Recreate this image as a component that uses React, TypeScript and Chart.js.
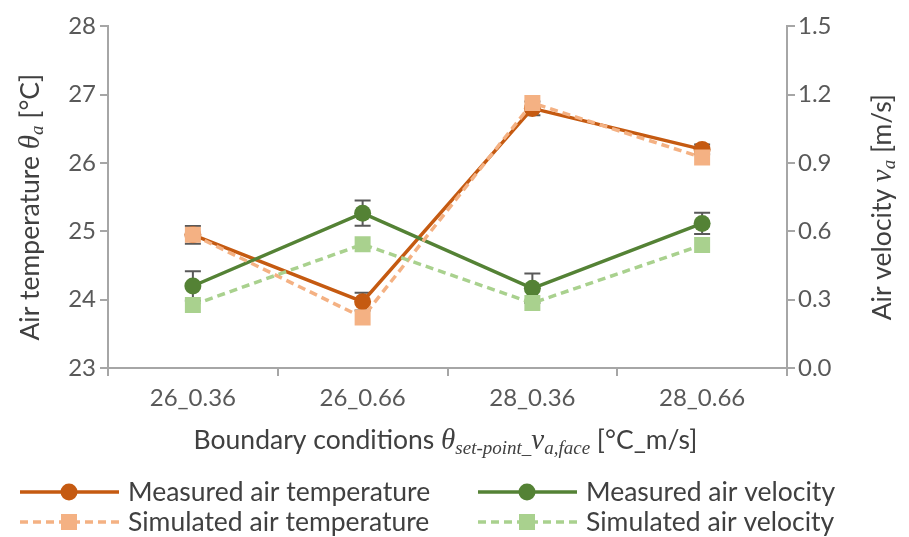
import React, { useEffect, useRef } from "react";
import { Chart, registerables } from "chart.js";

Chart.register(...registerables);

const categories = ["26_0.36", "26_0.66", "28_0.36", "28_0.66"];
const measuredTemp = [24.95, 23.97, 26.8, 26.2];
const measuredTempErr = [0.13, 0.13, 0.1, 0.07];
const simulatedTemp = [24.95, 23.74, 26.88, 26.08];
const measuredVel = [0.36, 0.68, 0.35, 0.635];
const measuredVelErr = [0.065, 0.055, 0.065, 0.047];
const simulatedVel = [0.277, 0.543, 0.285, 0.54];
const tempTicks = [23, 24, 25, 26, 27, 28];
const velTicks = [0, 0.3, 0.6, 0.9, 1.2, 1.5];

const FONT = "Lato";
const SERIF = "'Liberation Serif'";
const AXIS = "#A6A6A6";
const TICK = "#595959";
const TITLE = "#404040";
const C_MT = "#C55A11";
const C_ST = "#F4B183";
const C_MV = "#548235";
const C_SV = "#A9D18E";

const W = 893;
const H = 529;

type Run = { text: string; font: string; dy?: number };

function drawRuns(ctx: CanvasRenderingContext2D, runs: Run[], cx: number, cy: number, rotate: boolean) {
  ctx.save();
  ctx.translate(cx, cy);
  if (rotate) ctx.rotate(-Math.PI / 2);
  const widths = runs.map((r) => {
    ctx.font = r.font;
    return ctx.measureText(r.text).width;
  });
  const total = widths.reduce((a, b) => a + b, 0);
  let x = -total / 2;
  ctx.fillStyle = TITLE;
  ctx.textBaseline = "alphabetic";
  ctx.textAlign = "left";
  runs.forEach((r, i) => {
    ctx.font = r.font;
    ctx.fillText(r.text, x, 9 + (r.dy || 0));
    x += widths[i];
  });
  ctx.restore();
}

const errorBars = {
  id: "errorBars",
  beforeDatasetsDraw(chart: any) {
    const ctx = chart.ctx as CanvasRenderingContext2D;
    const xs = chart.scales.x;
    const draw = (vals: number[], errs: number[], id: string) => {
      const s = chart.scales[id];
      vals.forEach((v, i) => {
        const px = xs.getPixelForValue(i);
        const t = s.getPixelForValue(v + errs[i]);
        const b = s.getPixelForValue(v - errs[i]);
        ctx.save();
        ctx.strokeStyle = "#595959";
        ctx.lineWidth = 2;
        ctx.beginPath();
        ctx.moveTo(px, t);
        ctx.lineTo(px, b);
        ctx.moveTo(px - 8, t);
        ctx.lineTo(px + 8, t);
        ctx.moveTo(px - 8, b);
        ctx.lineTo(px + 8, b);
        ctx.stroke();
        ctx.restore();
      });
    };
    draw(measuredTemp, measuredTempErr, "y");
    draw(measuredVel, measuredVelErr, "y1");
  },
};

const titles = {
  id: "titles",
  afterDraw(chart: any) {
    const ctx = chart.ctx as CanvasRenderingContext2D;
    const reg = `26.5px ${FONT}`;
    const it = `italic 29px ${SERIF}`;
    const sub = `italic 19px ${SERIF}`;
    const ca = chart.chartArea;
    const cyMid = (ca.top + ca.bottom) / 2 + 10;
    drawRuns(
      ctx,
      [
        { text: "Air temperature ", font: reg },
        { text: "θ", font: it },
        { text: "a", font: sub, dy: 4 },
        { text: " [°C]", font: reg },
      ],
      22,
      cyMid,
      true
    );
    drawRuns(
      ctx,
      [
        { text: "Air velocity ", font: reg },
        { text: "v", font: it },
        { text: "a", font: sub, dy: 4 },
        { text: " [m/s]", font: reg },
      ],
      874,
      cyMid,
      true
    );
    drawRuns(
      ctx,
      [
        { text: "Boundary conditions ", font: reg },
        { text: "θ", font: it },
        { text: "set-point_", font: sub, dy: 5 },
        { text: "v", font: it },
        { text: "a,face", font: sub, dy: 5 },
        { text: " [°C_m/s]", font: reg },
      ],
      (ca.left + ca.right) / 2 - 2,
      432,
      false
    );
  },
};

const legendItems = [
  { label: "Measured air temperature", color: C_MT, dash: false, shape: "circle", x: 12, y: 484 },
  { label: "Measured air velocity", color: C_MV, dash: false, shape: "circle", x: 470, y: 484 },
  { label: "Simulated air temperature", color: C_ST, dash: true, shape: "rect", x: 12, y: 514 },
  { label: "Simulated air velocity", color: C_SV, dash: true, shape: "rect", x: 470, y: 514 },
];

const legendPlugin = {
  id: "customLegend",
  afterDraw(chart: any) {
    const ctx = chart.ctx as CanvasRenderingContext2D;
    legendItems.forEach((it) => {
      ctx.save();
      ctx.strokeStyle = it.color;
      ctx.lineWidth = 3.5;
      ctx.setLineDash(it.dash ? [8, 5] : []);
      ctx.beginPath();
      ctx.moveTo(it.x, it.y);
      ctx.lineTo(it.x + 99, it.y);
      ctx.stroke();
      ctx.setLineDash([]);
      ctx.fillStyle = it.color;
      const mx = it.x + 49;
      if (it.shape === "circle") {
        ctx.beginPath();
        ctx.arc(mx, it.y, 8.5, 0, Math.PI * 2);
        ctx.fill();
      } else {
        ctx.fillRect(mx - 8, it.y - 8, 16, 16);
      }
      ctx.fillStyle = TITLE;
      ctx.font = `26.5px ${FONT}`;
      ctx.textBaseline = "middle";
      ctx.textAlign = "left";
      ctx.fillText(it.label, it.x + 108, it.y);
      ctx.restore();
    });
  },
};

export default function App() {
  const ref = useRef<HTMLCanvasElement | null>(null);
  useEffect(() => {
    if (!ref.current) return;
    const prevMargin = document.body.style.marginBottom;
    document.body.style.marginBottom = "0px";
    const gridCommon = {
      display: true,
      drawOnChartArea: false,
      drawTicks: true,
      tickLength: 8,
      color: AXIS,
      lineWidth: 2,
    };
    const chart = new Chart(ref.current, {
      type: "line",
      data: {
        labels: categories,
        datasets: [
          {
            label: "Simulated air velocity",
            data: simulatedVel,
            yAxisID: "y1",
            borderColor: C_SV,
            backgroundColor: C_SV,
            borderWidth: 3.5,
            borderDash: [8, 5],
            pointStyle: "rect",
            pointRadius: 11.3,
            pointBorderWidth: 0,
            tension: 0,
          },
          {
            label: "Simulated air temperature",
            data: simulatedTemp,
            yAxisID: "y",
            borderColor: C_ST,
            backgroundColor: C_ST,
            borderWidth: 3.5,
            borderDash: [8, 5],
            pointStyle: "rect",
            pointRadius: 11.3,
            pointBorderWidth: 0,
            tension: 0,
          },
          {
            label: "Measured air velocity",
            data: measuredVel,
            yAxisID: "y1",
            borderColor: C_MV,
            backgroundColor: C_MV,
            borderWidth: 3.5,
            pointStyle: "circle",
            pointRadius: 8.5,
            pointBorderWidth: 0,
            tension: 0,
          },
          {
            label: "Measured air temperature",
            data: measuredTemp,
            yAxisID: "y",
            borderColor: C_MT,
            backgroundColor: C_MT,
            borderWidth: 3.5,
            pointStyle: "circle",
            pointRadius: 8.5,
            pointBorderWidth: 0,
            tension: 0,
          },
        ],
      },
      options: {
        responsive: false,
        animation: false,
        layout: { padding: { top: 17, left: 0, right: 0, bottom: 0 } },
        plugins: { legend: { display: false }, tooltip: { enabled: false } },
        scales: {
          x: {
            offset: true,
            grid: { ...gridCommon, offset: true },
            border: { display: true, color: AXIS, width: 2 },
            ticks: { color: TICK, font: { family: FONT, size: 24 }, padding: 8 },
            afterFit: (s: any) => {
              s.height = H - 360;
            },
          },
          y: {
            position: "left",
            min: 23,
            max: 28,
            grid: gridCommon,
            border: { display: true, color: AXIS, width: 2 },
            ticks: { color: TICK, font: { family: FONT, size: 24 }, padding: 4 },
            afterBuildTicks: (s: any) => {
              s.ticks = tempTicks.map((v) => ({ value: v }));
            },
            afterFit: (s: any) => {
              s.width = 100;
            },
          },
          y1: {
            position: "right",
            min: 0,
            max: 1.5,
            grid: gridCommon,
            border: { display: true, color: AXIS, width: 2 },
            ticks: {
              color: TICK,
              font: { family: FONT, size: 24 },
              padding: 3,
              callback: (v: any) => Number(v).toFixed(1),
            },
            afterBuildTicks: (s: any) => {
              s.ticks = velTicks.map((v) => ({ value: v }));
            },
            afterFit: (s: any) => {
              s.width = 114;
            },
          },
        },
      } as any,
      plugins: [errorBars, titles, legendPlugin],
    });
    return () => {
      chart.destroy();
      document.body.style.marginBottom = prevMargin;
    };
  }, []);
  return (
    <div style={{ width: W, height: H }}>
      <canvas ref={ref} width={W} height={H} style={{ display: "block" }} />
    </div>
  );
}
